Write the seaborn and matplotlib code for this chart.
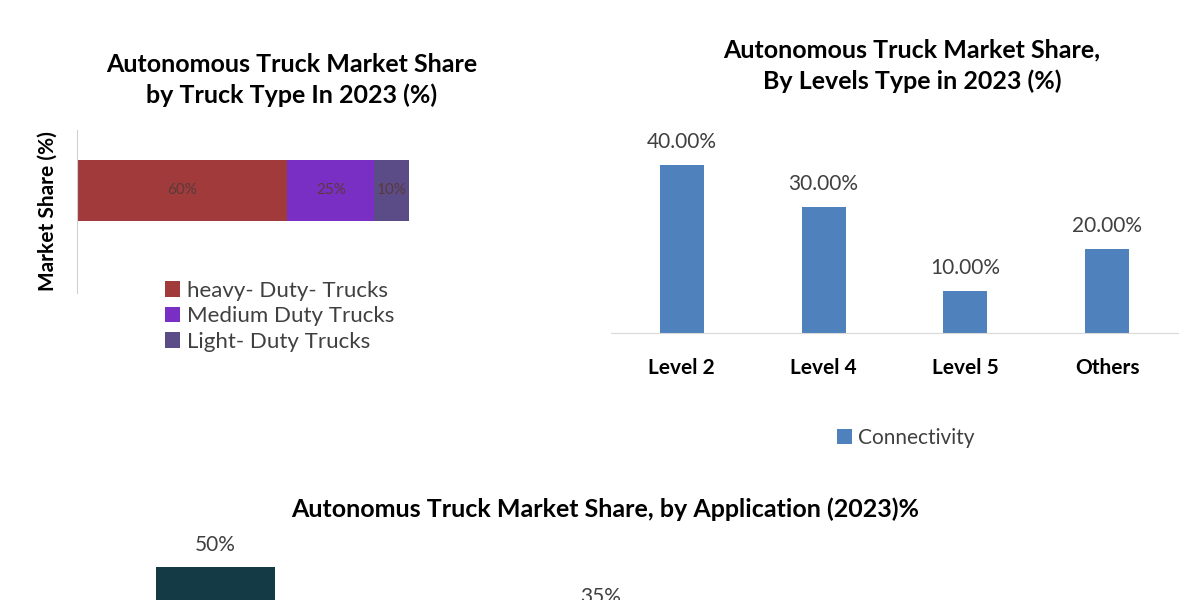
import matplotlib
matplotlib.use("Agg")
import matplotlib.pyplot as plt
import seaborn as sns
import pandas as pd

plt.rcParams["font.family"] = ["Lato", "DejaVu Sans"]

# truck type (stacked horizontal bar)
truck_types = ["heavy- Duty- Trucks", "Medium Duty Trucks", "Light- Duty Trucks"]
truck_share = [60, 25, 10]
truck_labels = ["60%", "25%", "10%"]
truck_colors = ["#a13b3b", "#7a2fc4", "#5b4b87"]

# levels type
levels = ["Level 2", "Level 4", "Level 5", "Others"]
level_share = [40.0, 30.0, 10.0, 20.0]

# application (cut off at the bottom of the image)
applications = ["Logistics", "Mining"]
app_share = [50, 35]

fig = plt.figure(figsize=(12, 6), dpi=100)
W, H = 1200, 600

def px_axes(left, top, right, bottom):
    return fig.add_axes([left / W, 1 - bottom / H, (right - left) / W, (bottom - top) / H])

# ---- left: truck type ----
ax1 = px_axes(77, 130, 420, 293)
left = 0
for name, val, lab, col in zip(truck_types, truck_share, truck_labels, truck_colors):
    ax1.barh([0], [val], left=left, height=0.75, color=col, label=name)
    ax1.text(left + val / 2, 0, lab, ha="center", va="center", fontsize=11, color="#5a3a3a")
    left += val
ax1.set_xlim(0, 98)
ax1.set_ylim(-1.26, 0.74)
for s in ["top", "right", "bottom"]:
    ax1.spines[s].set_visible(False)
ax1.spines["left"].set_color("#d0d0d0")
ax1.set_xticks([])
ax1.set_yticks([])
ax1.set_ylabel("Market Share (%)", fontsize=15, fontweight="bold", labelpad=14)
ax1.legend(loc="upper left", bbox_to_anchor=(0.23, 0.13), frameon=False, fontsize=16,
           labelcolor="#404040", handlelength=0.7, handleheight=0.7, handletextpad=0.3,
           labelspacing=0.25, borderaxespad=0)
fig.text(292 / W, 1 - 80 / H, "Autonomous Truck Market Share\nby Truck Type In 2023 (%)",
         ha="center", va="center", fontsize=18, fontweight="bold", linespacing=1.4)

# ---- right: levels type ----
ax2 = px_axes(611, 100, 1178, 333)
df_lv = pd.DataFrame({"level": levels, "share": level_share})
sns.barplot(data=df_lv, x="level", y="share", color="#4f81bd", width=0.31, ax=ax2,
            saturation=1, label="Connectivity")
ax2.set_ylim(0, 55.5)
for i, v in enumerate(level_share):
    ax2.text(i, v + 3, f"{v:.2f}%", ha="center", va="bottom", fontsize=15, color="#404040")
for s in ["top", "right", "left"]:
    ax2.spines[s].set_visible(False)
ax2.spines["bottom"].set_color("#d9d9d9")
ax2.set_yticks([])
ax2.tick_params(axis="x", length=0, labelsize=15, pad=18)
for t in ax2.get_xticklabels():
    t.set_fontweight("bold")
ax2.set_xlabel("")
ax2.set_ylabel("")
ax2.legend(loc="center", bbox_to_anchor=(0.52, -0.45), frameon=False, fontsize=15,
           labelcolor="#404040", handlelength=0.7, handleheight=0.7, handletextpad=0.3)
fig.text(912 / W, 1 - 66 / H, "Autonomous Truck Market Share,\nBy Levels Type in 2023 (%)",
         ha="center", va="center", fontsize=18, fontweight="bold", linespacing=1.4)

# ---- bottom: application (extends below the canvas) ----
ax3 = px_axes(23, 532, 793, 742)
df_app = pd.DataFrame({"app": applications, "share": app_share})
sns.barplot(data=df_app, x="app", y="share", color="#133a45", width=0.31, ax=ax3, saturation=1)
ax3.set_ylim(0, 60)
for i, v in enumerate(app_share):
    ax3.text(i, v + 3.5, f"{v}%", ha="center", va="bottom", fontsize=15, color="#404040")
ax3.axis("off")
fig.text(605 / W, 1 - 509 / H, "Autonomus Truck Market Share, by Application (2023)%",
         ha="center", va="center", fontsize=18, fontweight="bold")

fig.savefig("out.png", dpi=100)
